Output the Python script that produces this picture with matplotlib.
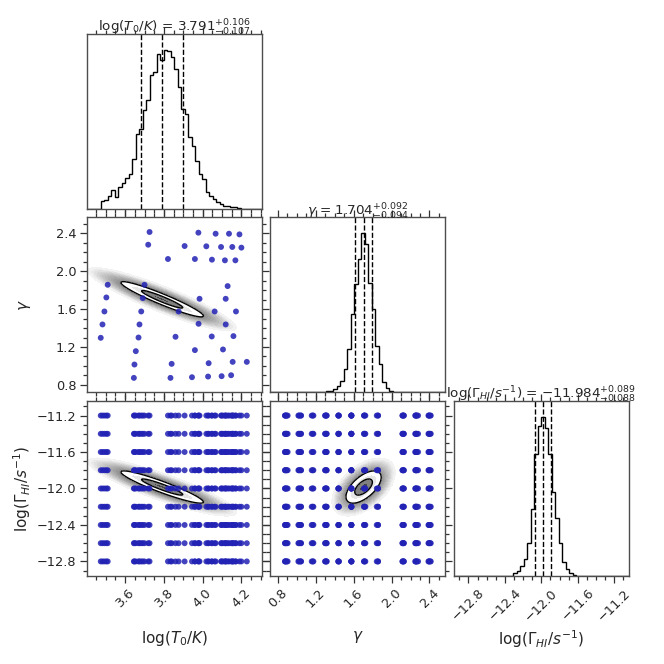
import numpy as np
import matplotlib
matplotlib.use("Agg")
import matplotlib.pyplot as plt
from matplotlib.ticker import MultipleLocator, NullLocator

# parameter labels / summary values read from the titles
labels = [r"$\log(T_0/K)$", r"$\gamma$", r"$\log(\Gamma_{HI}/s^{-1})$"]
medians = [3.791, 1.704, -11.984]
err_up = [0.106, 0.092, 0.089]
err_lo = [0.107, 0.094, 0.088]
ranges = [(3.403, 4.306), (0.720, 2.568), (-12.96, -11.04)]
major_step = [0.2, 0.4, 0.4]
minor_step = [0.05, 0.1, 0.1]

# 1D histogram counts (50 bins over each range)
hist_T0 = [0, 0, 0, 0, 23, 27, 40, 58, 35, 66, 77, 92, 105, 150, 225, 240, 297,
           327, 400, 410, 463, 445, 477, 472, 455, 420, 365, 300, 285, 215, 190,
           145, 105, 90, 52, 40, 29, 21, 14, 10, 8, 6, 5, 3, 1, 0, 0, 0, 0, 0]
hist_gamma = [0] * 16 + [3, 5, 10, 18, 35, 70, 130, 235, 325, 400, 477, 445,
                         329, 250, 140, 84, 32, 12, 4, 2] + [0] * 14
hist_Gamma = [0] * 17 + [8, 16, 30, 50, 100, 200, 366, 451, 477, 445, 366, 251,
                         175, 100, 42, 20, 8, 3] + [0] * 15
hists = [hist_T0, hist_gamma, hist_Gamma]

# correlation of each 2D posterior (core contours, outer point cloud)
rho_core = {(1, 0): -0.945, (2, 0): -0.93, (2, 1): 0.6}
rho_cloud = {(1, 0): -0.9, (2, 0): -0.87, (2, 1): 0.5}

# simulation grid: (T0, gamma) pairs, each run for every Gamma_HI value
grid_T0 = [3.474, 3.483, 3.493, 3.503, 3.510, 3.645, 3.648, 3.655, 3.669, 3.674,
           3.683, 3.691, 3.700, 3.719, 3.726, 3.821, 3.834, 3.840, 3.860, 3.876,
           3.907, 3.945, 3.960, 3.960, 3.978, 3.979, 3.984, 4.019, 4.028, 4.031,
           4.047, 4.048, 4.062, 4.067, 4.095, 4.098, 4.105, 4.115, 4.119, 4.119,
           4.129, 4.136, 4.147, 4.153, 4.155, 4.159, 4.169, 4.172, 4.190, 4.200,
           4.228]
grid_gamma = [1.297, 1.438, 1.575, 1.723, 1.857, 0.874, 1.015, 1.156, 1.300, 1.438,
              1.575, 1.716, 1.857, 2.280, 2.414, 2.129, 0.874, 1.022, 1.308, 1.575,
              2.266, 0.881, 1.167, 2.129, 2.407, 1.445, 1.709, 2.263, 0.888, 1.029,
              1.311, 2.122, 1.575, 2.396, 2.256, 0.892, 1.174, 2.115, 1.438, 1.709,
              1.843, 2.396, 0.902, 2.256, 1.043, 1.315, 2.115, 1.575, 2.389, 2.249,
              1.043]
grid_Gamma = [-12.8, -12.6, -12.4, -12.2, -12.0, -11.8, -11.6, -11.4, -11.2]

grid_cols = [np.array(grid_T0), np.array(grid_gamma)]

text_c = "#262626"
plt.rcParams.update({
    "font.family": "DejaVu Sans",
    "text.color": text_c,
    "axes.labelcolor": text_c,
    "axes.edgecolor": "0.3",
    "axes.linewidth": 1.0,
    "xtick.color": "0.2",
    "ytick.color": "0.2",
    "xtick.labelcolor": text_c,
    "ytick.labelcolor": text_c,
    "xtick.direction": "out",
    "ytick.direction": "out",
    "xtick.top": True,
    "ytick.right": True,
    "xtick.major.size": 5,
    "ytick.major.size": 5,
    "xtick.minor.size": 3,
    "ytick.minor.size": 3,
    "xtick.major.pad": 2.5,
    "ytick.major.pad": 2.5,
    "xtick.major.width": 0.9,
    "ytick.major.width": 0.9,
    "xtick.minor.width": 0.9,
    "ytick.minor.width": 0.9,
    "xtick.labelsize": 9.3,
    "ytick.labelsize": 9.3,
})

K = 3
fig, axes = plt.subplots(K, K, figsize=(6.64, 6.64), dpi=100)
fig.subplots_adjust(left=0.131, right=0.947, bottom=0.1325, top=0.949,
                    wspace=0.0486, hspace=0.0486)

cloud_levels = np.linspace(2.0, 3.6, 13)
cloud_colors = [str(g) for g in np.linspace(0.55, 0.95, len(cloud_levels) - 1)]


def mahal(i, j, rho, X, Y):
    sx = 0.5 * (err_up[j] + err_lo[j])
    sy = 0.5 * (err_up[i] + err_lo[i])
    dx = (X - medians[j]) / sx
    dy = (Y - medians[i]) / sy
    return np.sqrt((dx**2 - 2 * rho * dx * dy + dy**2) / (1 - rho**2))


def set_ticks(ax, j, axis):
    a = ax.xaxis if axis == "x" else ax.yaxis
    a.set_major_locator(MultipleLocator(major_step[j]))
    a.set_minor_locator(MultipleLocator(minor_step[j]))


for i in range(K):
    for j in range(K):
        ax = axes[i, j]
        if j > i:
            ax.set_visible(False)
            continue
        ax.set_xlim(*ranges[j])
        set_ticks(ax, j, "x")

        if i == j:
            edges = np.linspace(ranges[i][0], ranges[i][1], len(hists[i]) + 1)
            counts = np.array(hists[i], dtype=float)
            ax.stairs(counts, edges, color="k", lw=1.0, baseline=0)
            ax.set_ylim(0, 1.1 * counts.max())
            for q in (medians[i] - err_lo[i], medians[i], medians[i] + err_up[i]):
                ax.axvline(q, color="k", ls="--", lw=1.0)
            ax.yaxis.set_major_locator(NullLocator())
            ax.yaxis.set_minor_locator(NullLocator())
            title = "{} = ${:.3f}^{{+{:.3f}}}_{{-{:.3f}}}$".format(
                labels[i], medians[i], err_up[i], err_lo[i])
            ax.set_title(title, fontsize=9.7, y=1.0, pad=1.5)
        else:
            ax.set_ylim(*ranges[i])
            set_ticks(ax, i, "y")
            xs = np.linspace(ranges[j][0], ranges[j][1], 300)
            ys = np.linspace(ranges[i][0], ranges[i][1], 300)
            X, Y = np.meshgrid(xs, ys)
            r_cloud = mahal(i, j, rho_cloud[(i, j)], X, Y)
            r_core = mahal(i, j, rho_core[(i, j)], X, Y)
            ax.contourf(X, Y, np.clip(r_cloud, 2.0, None), levels=cloud_levels,
                        colors=cloud_colors, antialiased=False)
            ax.contourf(X, Y, r_core, levels=[0, 0.45, 1.0, 1.5, 2.0],
                        colors=["0.28", "0.5", "0.9", "1.0"])
            ax.contour(X, Y, r_core, levels=[1.0, 2.0], colors="k",
                       linewidths=1.0)

            # simulation grid points
            if i == 1:
                px, py = grid_cols[0], grid_cols[1]
            else:
                px = np.repeat(grid_cols[j], len(grid_Gamma))
                py = np.tile(grid_Gamma, len(grid_cols[j]))
            ax.scatter(px, py, s=18, color="#2222b4", alpha=0.85,
                       edgecolors="none", zorder=5)

        if i < K - 1:
            ax.set_xticklabels([])
        else:
            ax.tick_params(axis="x", which="major", labelrotation=45)
            ax.set_xlabel(labels[j], fontsize=11)
            ax.xaxis.set_label_coords(0.5, -0.3)
        if j == 0 and i > 0:
            ax.set_ylabel(labels[i], fontsize=11)
            ax.yaxis.set_label_coords(-0.31, 0.5)
        elif i != j:
            ax.set_yticklabels([])

fig.savefig("out.png", dpi=100)
